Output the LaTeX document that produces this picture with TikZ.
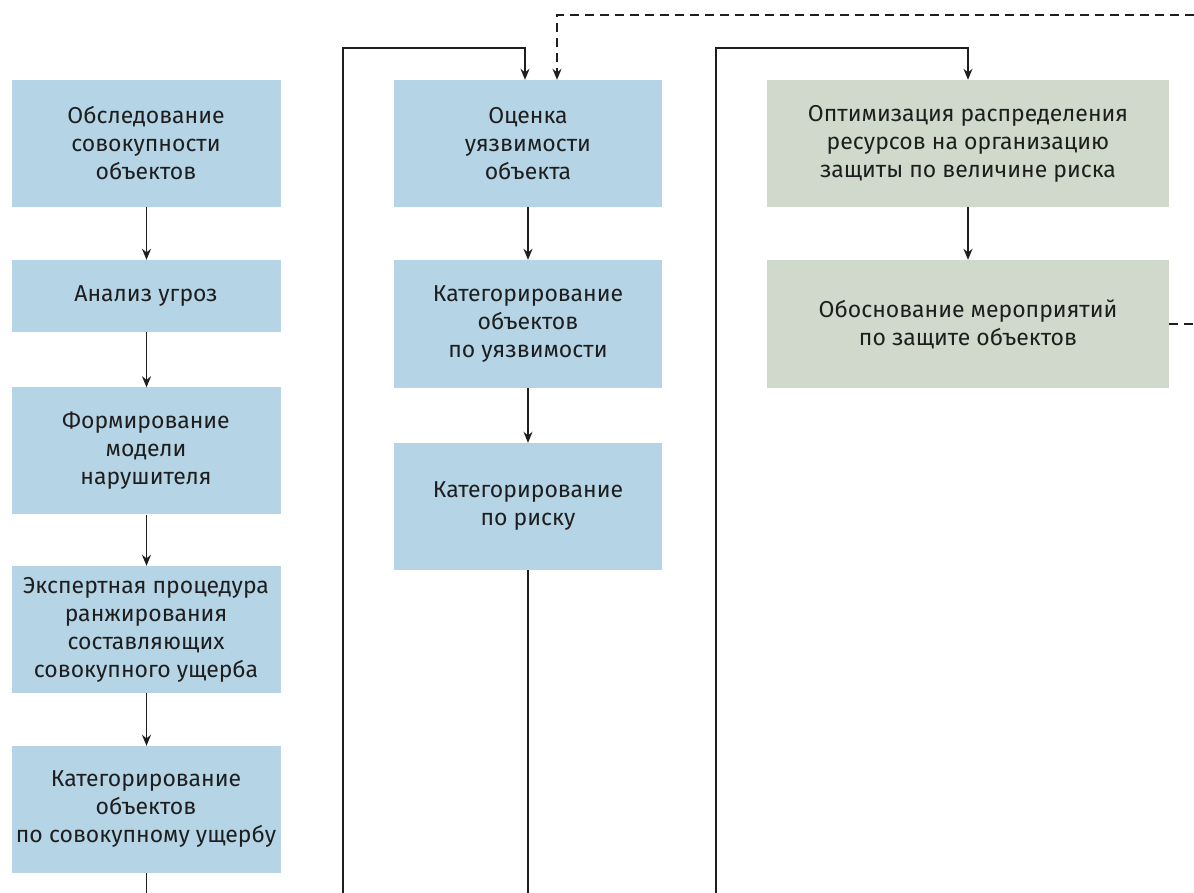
\documentclass[tikz,border=0pt]{standalone}
\usepackage{fontspec}
\setmainfont{Fira Sans}
\usetikzlibrary{arrows.meta}
\definecolor{boxblue}{RGB}{181,213,230}
\definecolor{boxgreen}{RGB}{208,217,204}
\definecolor{txt}{RGB}{30,30,30}
\begin{document}
\begin{tikzpicture}[x=1pt,y=1pt,
  every node/.style={font=\fontsize{23}{28}\selectfont, text=txt, align=center, inner sep=0pt},
  bb/.style={fill=boxblue, minimum height=127pt},
  gb/.style={fill=boxgreen, minimum height=127pt},
  c1/.style={minimum width=269pt},
  c2/.style={minimum width=268pt},
  c3/.style={minimum width=402pt},
  conn/.style={line width=1.4pt, draw=txt},
  arr/.style={conn, -{Stealth[length=11pt,width=9pt]}},
  darr/.style={arr, dash pattern=on 9pt off 6pt},
  dln/.style={conn, dash pattern=on 9pt off 6pt}]
\useasboundingbox (0,0) rectangle (1194,893);
% column 1
\node[bb,c1] (a1) at (146,749.5) {Обследование\\совокупности\\объектов};
\node[bb,c1,minimum height=72pt] (a2) at (146,597) {Анализ угроз};
\node[bb,c1] (a3) at (146,442) {Формирование\\модели\\нарушителя};
\node[bb,c1] (a4) at (146,263.5) {Экспертная процедура\\ранжирования\\составляющих\\совокупного ущерба};
\node[bb,c1] (a5) at (146,83.5) {Категорирование\\объектов\\по совокупному ущербу};
% column 2
\node[bb,c2] (b1) at (528,749.5) {Оценка\\уязвимости\\объекта};
\node[bb,c2,minimum height=128pt] (b2) at (528,569) {Категорирование\\объектов\\по уязвимости};
\node[bb,c2] (b3) at (528,386.5) {Категорирование\\по риску};
% column 3
\node[gb,c3] (g1) at (968,749.5) {Оптимизация распределения\\ресурсов на организацию\\защиты по величине риска};
\node[gb,c3,minimum height=128pt] (g2) at (968,569) {Обоснование мероприятий\\по защите объектов};
% helper coordinates
\coordinate (e1) at (146.5,0);
\coordinate (e2) at (528,0);
\coordinate (l1) at (343,0);
\coordinate (l1t) at (343,845);
\coordinate (l1a) at (525,845);
\coordinate (l2) at (716,0);
\coordinate (l2t) at (716,845);
\coordinate (l2a) at (968,845);
\coordinate (dr) at (1194,569);
\coordinate (dt) at (1194,878);
\coordinate (dc) at (557,878);
% arrows
\draw[arr] ([xshift=0.5pt]a1.south) -- ([xshift=0.5pt]a2.north);
\draw[arr] ([xshift=0.5pt]a2.south) -- ([xshift=0.5pt]a3.north);
\draw[arr] ([xshift=0.5pt]a3.south) -- ([xshift=0.5pt]a4.north);
\draw[arr] ([xshift=0.5pt]a4.south) -- ([xshift=0.5pt]a5.north);
\draw[conn] ([xshift=0.5pt]a5.south) -- (e1);
\draw[arr] (b1) -- (b2);
\draw[arr] (b2) -- (b3);
\draw[conn] (b3.south) -- (e2);
\draw[arr] (g1) -- (g2);
\draw[arr] (l1) -- (l1t) -- (l1a) -- (l1a |- b1.north);
\draw[arr] (l2) -- (l2t) -- (l2a) -- (g1.north);
\draw[dln] (g2.east) -- (dr);
\draw[darr] (dt) -- (dc) -- (dc |- b1.north);
\end{tikzpicture}
\end{document}
